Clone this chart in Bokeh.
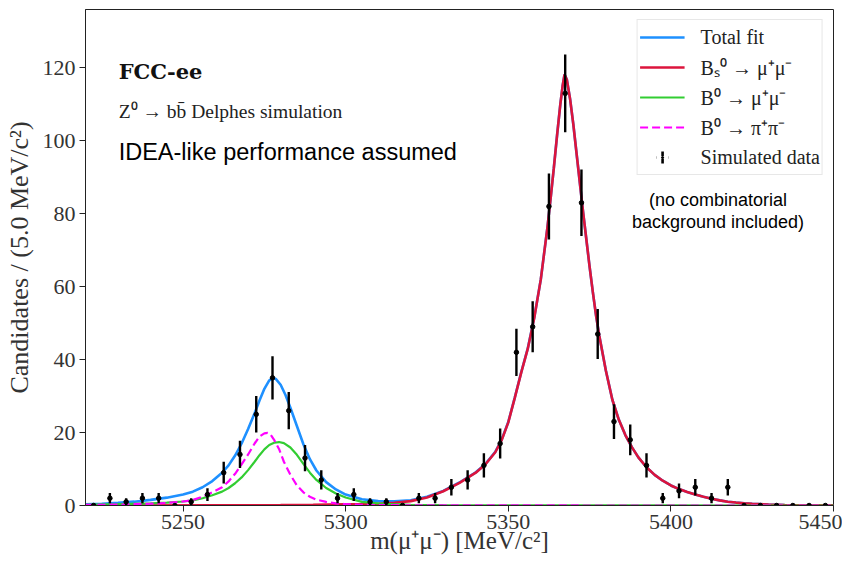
import numpy as np
from bokeh.plotting import figure
from bokeh.models import ColumnDataSource, Legend, LegendItem, Label, FixedTicker, Range1d
from bokeh.embed import file_html
from bokeh.resources import INLINE

# ---------------- data ----------------
bin_centers = [5222.5, 5227.5, 5232.5, 5237.5, 5242.5, 5247.5, 5252.5, 5257.5, 5262.5, 5267.5,
               5272.5, 5277.5, 5282.5, 5287.5, 5292.5, 5297.5, 5302.5, 5307.5, 5312.5, 5317.5,
               5322.5, 5327.5, 5332.5, 5337.5, 5342.5, 5347.5, 5352.5, 5357.5, 5362.5, 5367.5,
               5372.5, 5377.5, 5382.5, 5387.5, 5392.5, 5397.5, 5402.5, 5407.5, 5412.5, 5417.5,
               5422.5, 5427.5, 5432.5, 5437.5, 5442.5, 5447.5]
counts = [0, 2, 1, 2, 2, 0, 1, 3, 9, 14,
          25, 35, 26, 13, 7, 2, 3, 1, 1, 0,
          2, 2, 5, 7, 11, 17, 42, 49, 82, 113,
          83, 47, 23, 18, 11, 2, 4, 5, 2, 5,
          0, 0, 0, 0, 0, 0]

x_ticks = [5250, 5300, 5350, 5400, 5450]
y_ticks = [0, 20, 40, 60, 80, 100, 120]
x_lo, x_hi = 5220, 5450
y_lo, y_hi = 0, 136

# Total fit
total_x = [5220, 5225, 5230, 5235, 5240, 5245, 5250, 5253, 5256, 5259, 5262, 5264, 5266, 5268, 5270,
           5272, 5273.5, 5275, 5276.5, 5277.5, 5278.5, 5280, 5281.5, 5283, 5285, 5287, 5289, 5291,
           5294, 5297, 5300, 5305, 5310, 5315, 5320, 5325, 5330, 5335, 5340, 5343, 5346, 5348, 5350,
           5352, 5354, 5356, 5358, 5360, 5362, 5363, 5364, 5365, 5366, 5366.7, 5367.3, 5368, 5369,
           5370, 5371, 5372, 5373, 5374, 5375, 5376, 5377, 5378, 5380, 5382, 5384, 5386, 5388, 5390,
           5392.5, 5395, 5397.5, 5400, 5402.5, 5405, 5407.5, 5410, 5412.5, 5415, 5417.5, 5420,
           5422.5, 5425, 5430, 5435, 5440, 5445, 5450]
total_y = [0.35, 0.5, 0.75, 1.05, 1.55, 2.15, 3.0, 3.8, 5.0, 6.7, 9.0, 11.0, 13.7, 17.0, 21.0,
           25.3, 28.8, 32.0, 34.3, 35.0, 34.7, 33.1, 30.3, 26.8, 21.8, 16.8, 12.7, 9.6,
           6.4, 4.4, 3.0, 1.7, 1.2, 1.15, 1.45, 2.4, 4.0, 6.3, 9.1, 11.4, 14.7, 18.1, 22.9,
           29.6, 36.6, 43.1, 51.6, 62.0, 76.0, 84.0, 92.5, 101.5, 110.0, 115.0, 118.2, 116.8, 111.5,
           104.5, 96.5, 88.5, 80.5, 73.0, 65.5, 58.5, 52.0, 46.5, 37.0, 29.0, 23.5, 19.3, 16.0, 13.2,
           10.5, 8.4, 6.8, 5.5, 4.5, 3.7, 3.0, 2.4, 1.85, 1.4, 1.05, 0.8,
           0.6, 0.45, 0.25, 0.15, 0.08, 0.05, 0.03]

# Bs0 -> mu mu
bs_x = [5220, 5260, 5280, 5290, 5300, 5305, 5310, 5315, 5320, 5325, 5330, 5335, 5340, 5343, 5346,
        5348, 5350, 5352, 5354, 5356, 5358, 5360, 5362, 5363, 5364, 5365, 5366, 5366.7, 5367.3,
        5368, 5369, 5370, 5371, 5372, 5373, 5374, 5375, 5376, 5377, 5378, 5380, 5382, 5384, 5386,
        5388, 5390, 5392.5, 5395, 5397.5, 5400, 5402.5, 5405, 5407.5, 5410, 5412.5, 5415, 5417.5,
        5420, 5422.5, 5425, 5430, 5435, 5440, 5445, 5450]
bs_y = [0.02, 0.05, 0.1, 0.18, 0.3, 0.35, 0.45, 0.75, 1.2, 2.2, 3.9, 6.2, 9.0, 11.3, 14.6,
        18.0, 22.8, 29.5, 36.5, 43.0, 51.5, 62.0, 76.0, 84.0, 92.5, 101.5, 110.0, 115.0, 118.2,
        116.8, 111.5, 104.5, 96.5, 88.5, 80.5, 73.0, 65.5, 58.5, 52.0, 46.5, 37.0, 29.0, 23.5, 19.3,
        16.0, 13.2, 10.5, 8.4, 6.8, 5.5, 4.5, 3.7, 3.0, 2.4, 1.85, 1.4, 1.05,
        0.8, 0.6, 0.45, 0.25, 0.15, 0.08, 0.05, 0.03]

# B0 -> mu mu
bd_x = [5220, 5230, 5240, 5245, 5250, 5253, 5256, 5259, 5262, 5264, 5266, 5268, 5270, 5272, 5273.5,
        5275, 5276.5, 5278, 5279.5, 5281, 5283, 5285, 5287, 5289, 5291, 5294, 5297, 5300, 5305,
        5310, 5315, 5320, 5325, 5330, 5340, 5360, 5400, 5450]
bd_y = [0.2, 0.35, 0.6, 0.8, 1.1, 1.4, 2.0, 2.8, 3.8, 4.8, 6.1, 7.7, 9.7, 12.0, 13.8,
        15.4, 16.6, 17.2, 17.4, 17.1, 15.9, 13.9, 11.4, 9.0, 7.0, 4.8, 3.3, 2.2, 1.0,
        0.6, 0.35, 0.2, 0.12, 0.08, 0.04, 0.02, 0.01, 0.0]

# B0 -> pi pi
pipi_x = [5220, 5230, 5240, 5245, 5250, 5253, 5256, 5259, 5262, 5264, 5266, 5268, 5270, 5272, 5273.5,
          5275, 5276, 5277, 5278, 5279.5, 5281, 5283, 5285, 5287, 5289, 5291, 5294, 5297, 5300,
          5305, 5310, 5320, 5330, 5360, 5400, 5450]
pipi_y = [0.15, 0.25, 0.5, 0.7, 1.1, 1.5, 2.4, 3.6, 5.0, 6.6, 8.7, 11.3, 14.0, 17.0, 18.9,
          19.8, 19.9, 19.3, 18.0, 15.5, 12.0, 8.4, 5.5, 3.6, 2.4, 1.6, 1.0, 0.6, 0.35,
          0.2, 0.12, 0.06, 0.03, 0.01, 0.0, 0.0]

# ---------------- figure ----------------
p = figure(width=842, height=562, output_backend="svg", toolbar_location=None,
           x_range=Range1d(x_lo, x_hi), y_range=Range1d(y_lo, y_hi),
           min_border_left=85, min_border_right=9, min_border_top=9, min_border_bottom=57)
p.xgrid.visible = False
p.ygrid.visible = False
p.outline_line_color = "#222222"
p.outline_line_width = 1
p.outline_line_alpha = 1.0
p.background_fill_color = "white"
p.border_fill_color = "white"

BLUE = "#1e90ff"
RED = "#dc143c"
GREEN = "#32cd32"
MAGENTA = "#ff00ff"

r_tot = p.line(total_x, total_y, line_color=BLUE, line_width=2.6)
r_bs = p.line(bs_x, bs_y, line_color=RED, line_width=2.6)
r_bd = p.line(bd_x, bd_y, line_color=GREEN, line_width=2.2)
r_pp = p.line(pipi_x, pipi_y, line_color=MAGENTA, line_width=2.2, line_dash="8 4")

cnt = np.array(counts, dtype=float)
err = np.sqrt(cnt)
src = ColumnDataSource(dict(x=bin_centers, y=counts, lo=cnt - err, hi=cnt + err))
p.segment(x0="x", y0="lo", x1="x", y1="hi", source=src, line_color="black", line_width=2.4)
r_pts = p.scatter(x="x", y="y", source=src, marker="circle", size=4.5,
                  fill_color="black", line_color="black")

# legend-only glyphs for the data entry (one point outside the visible range):
# a "+" whose horizontal arm is masked in white, then a dot -> vertical error bar symbol
leg_src = ColumnDataSource(dict(x=[x_lo - 100], y=[y_lo - 100]))
r_cross = p.scatter(x="x", y="y", source=leg_src, marker="cross", size=20,
                    line_color="black", line_width=2.6)
r_mask = p.scatter(x="x", y="y", source=leg_src, marker="dash", size=20,
                   line_color="white", line_width=3.2)
r_dot = p.scatter(x="x", y="y", source=leg_src, marker="dot", size=20,
                  line_color="black", fill_color="black", line_width=3)

# axes
p.xaxis.ticker = FixedTicker(ticks=x_ticks)
p.yaxis.ticker = FixedTicker(ticks=y_ticks)
p.xaxis.axis_label = "m(μ⁺μ⁻) [MeV/c²]"
p.yaxis.axis_label = "Candidates / (5.0 MeV/c²)"
for ax in [p.xaxis[0], p.yaxis[0]]:
    ax.major_label_text_font = "Liberation Serif"
    ax.major_label_text_font_size = "22px"
    ax.major_label_text_color = "#333333"
    ax.axis_label_text_font = "Liberation Serif"
    ax.axis_label_text_font_style = "normal"
    ax.axis_label_text_color = "#333333"
    ax.major_tick_out = 6
    ax.major_tick_in = 0
    ax.minor_tick_out = 0
    ax.minor_tick_in = 0
    ax.axis_line_color = "#222222"
    ax.major_tick_line_color = "#222222"
p.xaxis.axis_label_text_font_size = "25px"
p.yaxis.axis_label_text_font_size = "26px"
p.xaxis.major_label_standoff = 3
p.yaxis.major_label_standoff = 4
p.xaxis.axis_label_standoff = -5
p.yaxis.axis_label_standoff = 6

# legend
legend = Legend(items=[
    LegendItem(label="Total fit", renderers=[r_tot]),
    LegendItem(label="Bₛ⁰ → μ⁺μ⁻", renderers=[r_bs]),
    LegendItem(label="B⁰ → μ⁺μ⁻", renderers=[r_bd]),
    LegendItem(label="B⁰ → π⁺π⁻", renderers=[r_pp]),
    LegendItem(label="Simulated data", renderers=[r_cross, r_mask, r_dot]),
], location="top_right")
legend.label_text_font = "Liberation Serif"
legend.label_text_font_size = "20px"
legend.label_text_color = "#222222"
legend.glyph_width = 45
legend.glyph_height = 30
legend.label_height = 20
legend.label_standoff = 16
legend.spacing = 0
legend.padding = 2
legend.margin = 10
legend.border_line_color = "#d0d0d0"
legend.border_line_width = 1
legend.background_fill_color = "white"
legend.background_fill_alpha = 1.0
p.add_layout(legend)

# annotations
p.add_layout(Label(x=5230.2, y=118.9, text="FCC-ee", text_font="DejaVu Serif",
                   text_font_size="21px", text_font_style="bold", text_color="#111111",
                   text_baseline="middle", text_align="left"))
p.add_layout(Label(x=5230.2, y=107.9, text="Z⁰ → bb̄ Delphes simulation",
                   text_font="Liberation Serif", text_font_size="19.5px", text_color="#222222",
                   text_baseline="middle", text_align="left"))
p.add_layout(Label(x=5230.2, y=96.9, text="IDEA-like performance assumed",
                   text_font="Liberation Sans", text_font_size="23.5px", text_color="black",
                   text_baseline="middle", text_align="left"))
p.add_layout(Label(x=5414.5, y=83.7, text="(no combinatorial",
                   text_font="Liberation Sans", text_font_size="18px", text_color="black",
                   text_baseline="middle", text_align="center"))
p.add_layout(Label(x=5414.5, y=77.7, text="background included)",
                   text_font="Liberation Sans", text_font_size="18px", text_color="black",
                   text_baseline="middle", text_align="center"))

open("out.html", "w").write(file_html(p, INLINE))
